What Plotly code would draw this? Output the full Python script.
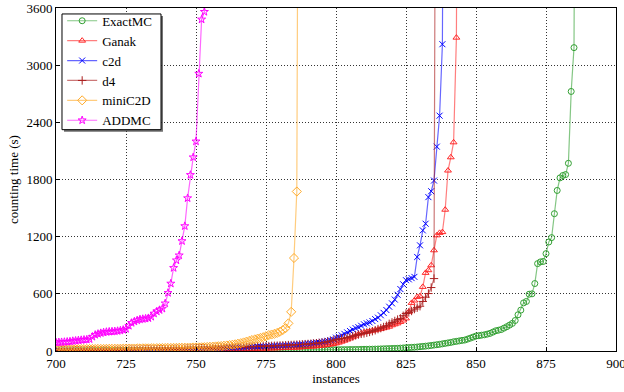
import plotly.graph_objects as go

x_start = 700

exactmc = [2,2,2,2,2,3,3,3,3,3,
           3,3,3,4,4,4,4,4,4,4,
           5,5,5,5,5,5,5,5,5,6,
           6,6,6,6,6,6,6,6,7,7,
           7,7,7,7,7,7,7,7,7,8,
           8,8,8,8,8,8,8,8,8,8,
           8,8,8,8,9,9,9,9,9,9,
           9,9,9,9,9,9,10,10,10,10,
           10,10,10,10,10,10,11,11,11,11,
           11,11,11,12,12,12,12,12,13,13,
           13,13,14,14,14,15,15,16,16,17,
           18,18,19,19,20,21,22,23,24,25,
           26,27,28,30,32,34,36,38,40,42,
           45,48,51,54,58,62,66,70,75,80,
           85,90,97,101,106,111,115,125,135,146,
           157,161,166,170,177,185,198,212,218,225,
           240,255,272,290,320,380,429,505,520,596,
           600,708,917,935,940,1022,1144,1190,1441,1685,
           1817,1842,1852,1970,2724,3184,10000]

ganak = [3,3,3,3,3,3,4,4,4,4,
         4,4,5,5,5,5,5,6,6,6,
         6,6,6,7,7,7,7,7,8,8,
         8,8,8,9,9,9,9,10,10,10,
         10,10,11,11,11,11,12,12,12,12,
         12,12,13,13,14,14,15,15,16,16,
         17,17,18,18,19,19,20,20,21,21,
         22,23,24,24,25,26,26,27,28,29,
         30,31,32,33,34,35,36,38,40,42,
         44,46,48,50,53,56,60,64,68,73,
         80,88,98,108,120,132,145,160,175,185,
         195,201,207,213,219,225,232,239,246,255,
         270,280,290,305,320,342,411,505,530,568,
         575,673,820,848,900,1057,1214,1240,1248,1483,
         1894,2033,2190,3289,10000]

c2d = [6,6,6,6,6,7,7,7,7,7,
       7,8,8,8,8,8,9,9,9,9,
       10,10,10,10,11,11,11,12,12,12,
       13,13,13,14,14,15,15,16,16,17,
       17,18,18,19,20,20,21,22,22,23,
       24,24,25,26,27,28,28,29,30,31,
       32,33,34,35,36,38,39,40,41,43,
       44,45,46,48,49,50,52,53,55,56,
       58,59,61,62,64,66,68,70,72,75,
       78,81,84,88,92,96,101,107,114,122,
       140,150,165,180,195,210,225,240,250,265,
       280,290,300,315,335,350,375,400,430,465,
       500,540,590,650,700,743,752,765,778,987,
       1109,1266,1336,1615,1677,1789,2145,2470,3220,10000]

d4 = [6,6,6,6,7,7,7,7,7,8,
      8,8,8,8,9,9,9,9,10,10,
      10,11,11,11,12,12,12,13,13,14,
      14,15,15,16,16,17,17,18,18,19,
      20,20,21,22,22,23,24,25,25,26,
      27,28,29,29,30,31,32,33,34,35,
      36,37,38,39,40,41,42,43,44,45,
      46,47,48,49,50,51,52,54,55,56,
      58,59,60,62,63,65,66,68,70,72,
      74,76,79,82,85,88,92,98,104,112,
      120,125,130,135,140,148,155,165,172,180,
      185,192,200,208,218,230,240,252,265,285,
      300,315,330,342,370,394,405,420,440,455,
      470,520,565,603,666,760,10000]

minic2d = [18,18,18,19,19,19,19,20,20,20,
           20,21,21,21,21,22,22,22,23,23,
           23,24,24,24,25,25,26,26,26,27,
           27,28,28,28,29,29,30,30,31,31,
           32,32,33,33,34,34,35,35,36,37,
           37,38,39,40,42,44,46,48,50,52,
           55,58,62,66,70,76,82,90,98,106,
           115,122,130,137,145,155,167,173,180,190,
           202,220,240,290,411,976,1674,10000]

addmc = [90,92,93,95,97,100,105,108,112,115,
         118,120,125,150,170,180,188,195,200,203,
         205,207,210,215,222,232,265,295,310,322,
         332,336,340,345,360,394,415,430,445,500,
         610,708,872,952,1004,1154,1311,1604,1848,2033,
         2200,2911,3480,3560,10000]

series = [
    ("ExactMC", exactmc, (50, 160, 50), "circle-open", 6),
    ("Ganak", ganak, (255, 40, 40), "triangle-up-open", 6),
    ("c2d", c2d, (0, 0, 255), "x-thin-open", 6),
    ("d4", d4, (170, 30, 30), "cross-thin-open", 6),
    ("miniC2D", minic2d, (255, 170, 40), "diamond-open", 7),
    ("ADDMC", addmc, (255, 0, 255), "star-open", 6),
]

x_ticks = [700, 725, 750, 775, 800, 825, 850, 875, 900]
y_ticks = [0, 600, 1200, 1800, 2400, 3000, 3600]

fig = go.Figure()
for name, vals, (r, g, b), sym, msize in series:
    xs = list(range(x_start, x_start + len(vals)))
    fig.add_trace(go.Scatter(
        x=xs, y=vals, name=name, mode="lines+markers",
        line=dict(color=f"rgba({r},{g},{b},0.6)", width=1.2),
        marker=dict(symbol=sym, size=msize, color=f"rgb({r},{g},{b})",
                    line=dict(width=1, color=f"rgb({r},{g},{b})")),
    ))

# legend frame with drop shadow (paper coordinates)
fig.add_shape(type="rect", xref="paper", yref="paper",
              x0=0.0143, x1=0.1910, y0=0.6395, y1=0.9767,
              line=dict(width=0), fillcolor="rgba(60,60,60,0.75)", layer="above")
fig.add_shape(type="rect", xref="paper", yref="paper",
              x0=0.0107, x1=0.1875, y0=0.6453, y1=0.9826,
              line=dict(width=1, color="black"), fillcolor="white", layer="above")

font_family = "Liberation Serif, Times New Roman, serif"
axis_common = dict(
    showline=True, linecolor="black", linewidth=1, mirror=True,
    showgrid=True, gridcolor="rgba(0,0,0,0.8)", griddash="1px,2px", gridwidth=1,
    ticks="inside", ticklen=4, tickcolor="black",
    zeroline=False, automargin=False, ticklabeloverflow="allow",
    tickfont=dict(family=font_family, size=13, color="black"),
)

fig.update_layout(
    width=624, height=392,
    margin=dict(l=56, r=8, t=7, b=41),
    paper_bgcolor="white", plot_bgcolor="white",
    font=dict(family=font_family, size=13, color="black"),
    showlegend=True,
    legend=dict(x=0.011, y=1.0035, xanchor="left", yanchor="top",
                bgcolor="rgba(0,0,0,0)", borderwidth=0,
                font=dict(family=font_family, size=13, color="black"),
                tracegroupgap=0, itemwidth=30),
    xaxis=dict(range=[700, 900], tickvals=x_ticks,
               title=dict(text="instances", standoff=2,
                          font=dict(family=font_family, size=13)),
               **axis_common),
    yaxis=dict(range=[0, 3600], tickvals=y_ticks,
               title=dict(text="counting time (s)", standoff=4,
                          font=dict(family=font_family, size=13)),
               **axis_common),
)

fig.write_html("out.html",
               config={"displayModeBar": False},
               post_script="document.body.style.margin='0';document.body.style.overflow='hidden';")
